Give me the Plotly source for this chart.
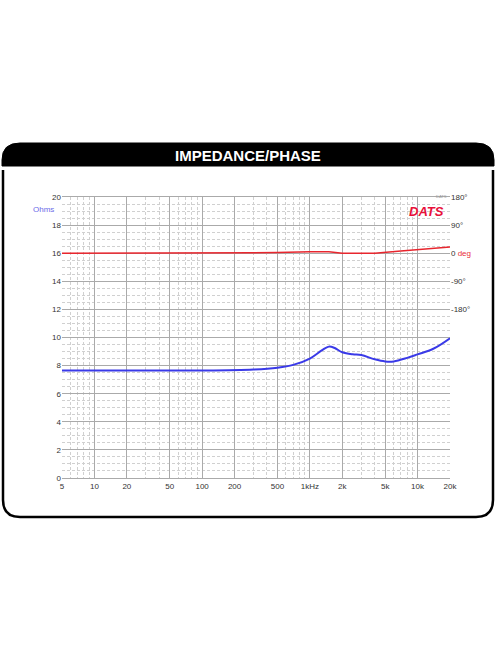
import plotly.graph_objects as go

freq = [5, 20, 100, 300, 500, 700, 1000, 1300, 1500, 1700, 2000, 2500, 3000, 4000, 5000, 6000, 8000, 10000, 14000, 20000]
impedance = [7.65, 7.65, 7.65, 7.72, 7.85, 8.05, 8.5, 9.1, 9.35, 9.25, 8.95, 8.8, 8.75, 8.45, 8.3, 8.3, 8.55, 8.8, 9.2, 9.95]
phase_freq = [5, 100, 300, 500, 1000, 1500, 2000, 4000, 7000, 10000, 20000]
phase_deg = [0, 0, 1, 2, 4.5, 4.5, 0, 0, 7, 11, 20]

x_ticks = [5, 10, 20, 50, 100, 200, 500, 1000, 2000, 5000, 10000, 20000]
x_labels = ["5", "10", "20", "50", "100", "200", "500", "1kHz", "2k", "5k", "10k", "20k"]
ph_ticks = [-180, -90, 0, 90, 180]
ph_labels = ["-180°", "-90°", "0 <span style='color:#e8303a'>deg</span>", "90°", "180°"]

W, H = 496, 664
L, R, T, B = 62, 450, 197, 478
pw, ph = R - L, B - T
def px(x): return (x - L) / pw
def py(y): return (B - y) / ph

fig = go.Figure()
fig.add_trace(go.Scatter(x=freq, y=impedance, mode="lines", line=dict(color="#3a3ae8", width=2, shape="spline"), yaxis="y"))
fig.add_trace(go.Scatter(x=phase_freq, y=phase_deg, mode="lines", line=dict(color="#e8262e", width=1.5), yaxis="y2"))

grid = "#d0d0d0"
fig.update_layout(
    width=W, height=H, showlegend=False, paper_bgcolor="white", plot_bgcolor="white",
    margin=dict(l=L, r=W - R, t=T, b=H - B, autoexpand=False),
    font=dict(family="Liberation Sans, Arial", size=8, color="#333"),
    xaxis=dict(type="log", range=[0.69897, 4.30103], tickvals=x_ticks, ticktext=x_labels,
               showgrid=True, gridcolor="#aaaaaa", gridwidth=1, ticks="", showline=True, linecolor="#aaa", mirror=True,
               minor=dict(showgrid=True, gridcolor=grid, griddash="3px,2px", dtick="D1"), zeroline=False),
    yaxis=dict(range=[0, 20], dtick=2, showgrid=True, gridcolor="#aaaaaa", ticks="", zeroline=False,
               minor=dict(showgrid=True, gridcolor=grid, griddash="3px,2px", dtick=0.5)),
    yaxis2=dict(overlaying="y", side="right", range=[-720, 180], tickvals=ph_ticks, ticktext=ph_labels,
                showgrid=False, zeroline=False, ticks=""),
    shapes=[
        dict(type="path", xref="paper", yref="paper", layer="below", line=dict(color="black", width=2.5), fillcolor="rgba(0,0,0,0)",
             path=f"M {px(3)} {py(170)} L {px(3)} {py(500)} Q {px(3)} {py(517)} {px(20)} {py(517)} L {px(476)} {py(517)} Q {px(493)} {py(517)} {px(493)} {py(500)} L {px(493)} {py(170)}"),
        dict(type="path", xref="paper", yref="paper", layer="below", line=dict(color="black", width=1), fillcolor="black",
             path=f"M {px(2)} {py(166)} L {px(2)} {py(160)} Q {px(2)} {py(143)} {px(20)} {py(143)} L {px(476)} {py(143)} Q {px(494)} {py(143)} {px(494)} {py(160)} L {px(494)} {py(166)} Z"),
    ],
    annotations=[
        dict(text="<b>IMPEDANCE/PHASE</b>", x=px(248), y=py(155), xref="paper", yref="paper", showarrow=False, yanchor="middle",
             font=dict(color="white", size=15, family="Liberation Sans, Arial")),
        dict(text="Ohms", x=px(31), y=py(203), xref="paper", yref="paper", showarrow=False,
             font=dict(color="#6a6ae8", size=8)),
        dict(text="<b><i>DATS</i></b>", x=px(446), y=py(202), xref="paper", yref="paper", showarrow=False, xanchor="right",
             font=dict(color="#e8103a", size=13, family="Liberation Sans, Arial")),
        dict(text="DATS", x=px(449), y=py(192), xref="paper", yref="paper", showarrow=False, xanchor="right",
             font=dict(color="#999", size=4)),
    ],
)
fig.write_html("out.html", config={"displayModeBar": False},
               post_script="document.body.style.margin='0';document.body.style.overflow='hidden';")
